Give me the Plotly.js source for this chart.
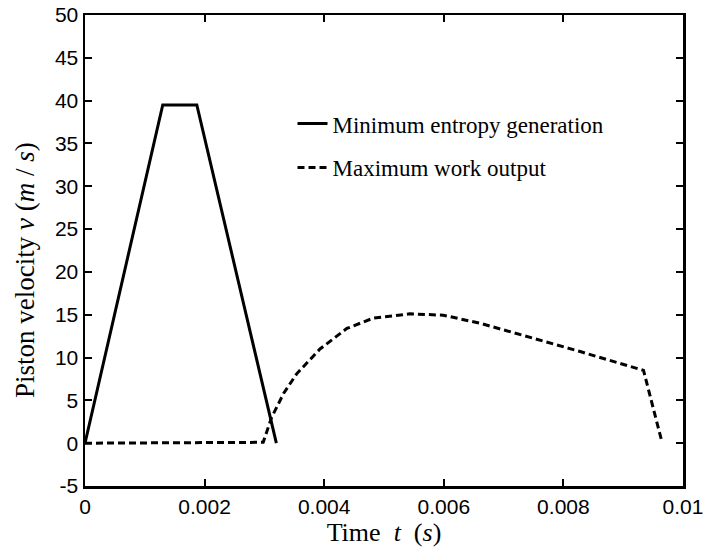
<!DOCTYPE html>
<html>
<head>
<meta charset="utf-8">
<script src="https://cdn.plot.ly/plotly-3.0.1.min.js"></script>
<style>html,body{margin:0;padding:0;background:#fff;}#chart{width:703px;height:552px;}</style>
</head>
<body>
<div id="chart"></div>
<script>
// Minimum entropy generation (solid)
const minEntropyTime = [0, 0.0013, 0.00187, 0.0032];
const minEntropyVel  = [0, 39.5, 39.5, 0];

// Maximum work output (dashed)
const maxWorkTime = [0, 0.00298, 0.00312, 0.00332, 0.00354, 0.00393, 0.00438, 0.00482, 0.00543, 0.00599, 0.00661, 0.00744, 0.00828, 0.00934, 0.00964];
const maxWorkVel  = [0, 0.1, 3.0, 5.8, 8.1, 11.0, 13.4, 14.6, 15.1, 14.95, 14.0, 12.4, 10.7, 8.5, 0.35];

const xTickVals = [0, 0.002, 0.004, 0.006, 0.008, 0.01];
const xTickText = ['0', '0.002', '0.004', '0.006', '0.008', '0.01'];
const yTickVals = [-5, 0, 5, 10, 15, 20, 25, 30, 35, 40, 45, 50];
const yTickText = ['-5', '0', '5', '10', '15', '20', '25', '30', '35', '40', '45', '50'];

const traces = [
  {x: minEntropyTime, y: minEntropyVel, mode: 'lines', name: 'Minimum entropy generation',
   legendgroup: 'a', line: {color: '#000', width: 3}},
  {x: maxWorkTime, y: maxWorkVel, mode: 'lines', name: 'Maximum work output',
   legendgroup: 'b', line: {color: '#000', width: 3, dash: '7px,4px'}}
];

const serif = 'Liberation Serif, Times New Roman, serif';
const tickFont = {family: 'Liberation Sans, Arial, sans-serif', size: 21, color: '#000'};
const layout = {
  width: 703, height: 552,
  margin: {l: 85, r: 20, t: 15, b: 66},
  paper_bgcolor: '#fff', plot_bgcolor: '#fff',
  showlegend: true,
  legend: {x: 0.347, y: 0.815, xanchor: 'left', yanchor: 'top', bgcolor: 'rgba(0,0,0,0)',
           font: {family: serif, size: 23, color: '#000'},
           tracegroupgap: 11, traceorder: 'grouped', itemwidth: 30},
  xaxis: {range: [0, 0.01], tickvals: xTickVals, ticktext: xTickText, ticks: 'inside', ticklen: 7, tickwidth: 2,
          tickcolor: '#000', showline: true, linecolor: '#000', linewidth: 2.5, mirror: 'ticks',
          showgrid: false, zeroline: false, tickfont: tickFont, ticklabeloverflow: 'allow',
          title: {text: 'Time  <i>t</i>  (<i>s</i>)', standoff: 4,
                  font: {family: serif, size: 26, color: '#000'}}},
  yaxis: {range: [-5, 50], tickvals: yTickVals, ticktext: yTickText, ticks: 'inside', ticklen: 7, tickwidth: 2,
          tickcolor: '#000', showline: true, linecolor: '#000', linewidth: 2.5, mirror: 'ticks',
          showgrid: false, zeroline: false, tickfont: tickFont, ticklabeloverflow: 'allow'},
  annotations: [{
    text: 'Piston velocity <i>v</i> (<i>m</i> / <i>s</i>)', xref: 'paper', yref: 'paper',
    x: -0.1, y: 0.459, xanchor: 'center', yanchor: 'middle', textangle: -90, showarrow: false,
    font: {family: serif, size: 27, color: '#000'}
  }]
};

Plotly.newPlot('chart', traces, layout, {displayModeBar: false, staticPlot: true});
</script>
</body>
</html>
